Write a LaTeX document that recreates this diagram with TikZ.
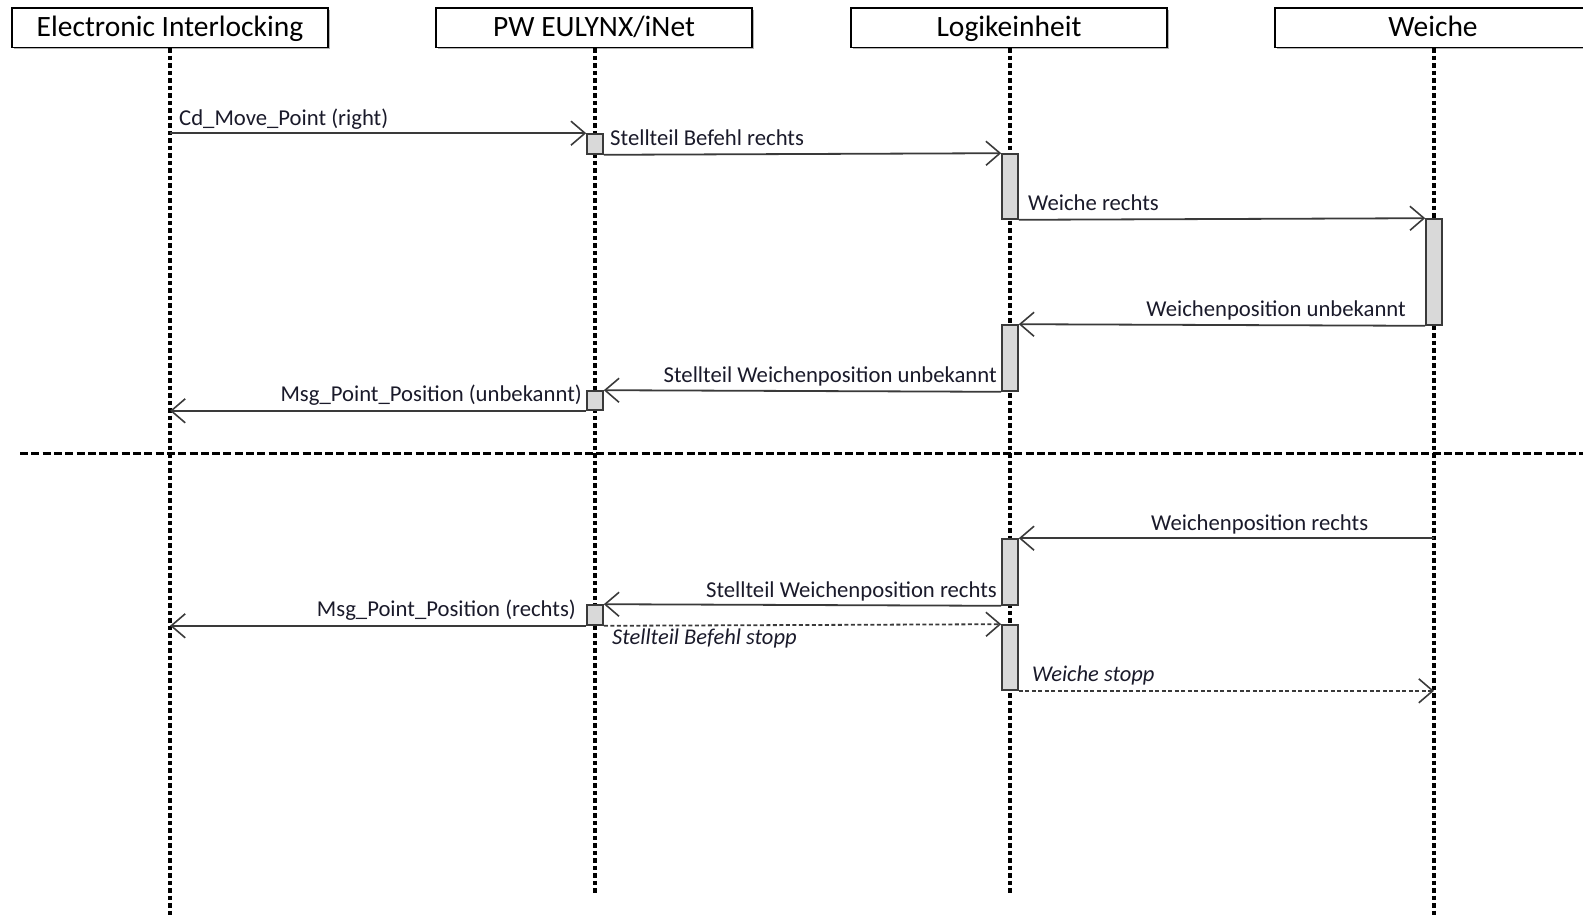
\documentclass[tikz,border=0pt]{standalone}
\usepackage{fontspec}
\setmainfont{Carlito}
\usetikzlibrary{arrows.meta,shadows}
\definecolor{msgline}{HTML}{3A3A3A}
\definecolor{actfill}{HTML}{D9D9D9}
\definecolor{labtext}{HTML}{1A1A2A}
\begin{document}
\begin{tikzpicture}[x=1pt,y=-1pt,
  head/.style={draw=black, line width=1.3pt, fill=white, minimum width=316pt,
    minimum height=39.5pt, inner sep=0pt, text height=22pt, text depth=4pt,
    font=\fontsize{29.5}{31}\selectfont,
    drop shadow={shadow xshift=1.5pt, shadow yshift=-1.5pt, fill=gray, opacity=0.6}},
  life/.style={line width=3.3pt, dash pattern=on 4.5pt off 3pt},
  sepline/.style={line width=3pt, dash pattern=on 8pt off 3.3pt},
  act/.style={draw=msgline, fill=actfill, line width=1.6pt, minimum width=16pt, inner sep=0pt},
  msg/.style={draw=msgline, line width=1.8pt,
    -{Straight Barb[length=14pt,width=24pt,line width=1.6pt]}},
  reply/.style={msg, dash pattern=on 4pt off 2.5pt},
  lab/.style={inner sep=0pt, text=labtext, font=\fontsize{22.7}{24}\selectfont},
  ilab/.style={lab, font=\fontsize{22.5}{24}\selectfont\itshape}
]
\useasboundingbox (0,0) rectangle (1583,916);

% participants
\node[head] (ei) at (170,27.75) {Electronic Interlocking};
\node[head] (pw) at (594,27.75) {PW EULYNX/iNet};
\node[head] (lg) at (1009,27.75) {Logikeinheit};
\node[head] (wc) at (1433,27.75) {Weiche};

% lifeline ends
\coordinate (eiend) at (170,916);
\coordinate (pwend) at (595,893);
\coordinate (lgend) at (1010,893);
\coordinate (wcend) at (1434,916);

\draw[life] (ei.south) -- (eiend);
\draw[life] (pw.south -| pwend) -- (pwend);
\draw[life] (lg.south -| lgend) -- (lgend);
\draw[life] (wc.south -| wcend) -- (wcend);

% separator between the two phases
\coordinate (sepL) at (20,453);
\coordinate (sepR) at (1583,453);
\draw[sepline] (sepL) -- (sepR);

% activation bars
\node[act, minimum height=20pt] (p1) at (595,144) {};
\node[act, minimum height=65pt] (l1) at (1010,186.5) {};
\node[act, minimum height=106pt] (w1) at (1434,272) {};
\node[act, minimum height=66pt] (l2) at (1010,358) {};
\node[act, minimum height=19pt] (p2) at (595,400.5) {};
\node[act, minimum height=66pt] (l3) at (1010,572) {};
\node[act, minimum height=20pt] (p3) at (595,615) {};
\node[act, minimum height=65pt] (l4) at (1010,657.5) {};

% messages, first phase
\draw[msg] (ei.south |- p1.north west) -- (p1.north west);
\node[lab, anchor=base west] (m1) at (179,125) {Cd\_Move\_Point (right)};

\draw[msg] (p1.south east) -- (l1.north west);
\node[lab, anchor=base west] (m2) at (610,145) {Stellteil Befehl rechts};

\draw[msg] (l1.south east) -- (w1.north west);
\node[lab, anchor=base west] (m3) at (1028,210) {Weiche rechts};

\draw[msg] (w1.south west) -- (l2.north east);
\node[lab, anchor=base east] (m4) at (1406,316) {Weichenposition unbekannt};

\draw[msg] (l2.south west) -- (p2.north east);
\node[lab, anchor=base east] (m5) at (997,382) {Stellteil Weichenposition unbekannt};

\draw[msg] (p2.south west) -- (ei.south |- p2.south west);
\node[lab, anchor=base east] (m6) at (582,401) {Msg\_Point\_Position (unbekannt)};

% messages, second phase
\draw[msg] (wcend |- l3.north east) -- (l3.north east);
\node[lab, anchor=base west] (m7) at (1151,530) {Weichenposition rechts};

\draw[msg] (l3.south west) -- (p3.north east);
\node[lab, anchor=base east] (m8) at (997,597) {Stellteil Weichenposition rechts};

\draw[msg] (p3.south west) -- (ei.south |- p3.south west);
\node[lab, anchor=base east] (m9) at (576,616) {Msg\_Point\_Position (rechts)};

\draw[reply] (p3.south east) -- (l4.north west);
\node[ilab, anchor=base west] (m10) at (612,644) {Stellteil Befehl stopp};

\draw[reply] (l4.south east) -- (wcend |- l4.south east);
\node[ilab, anchor=base west] (m11) at (1032,681) {Weiche stopp};
\end{tikzpicture}
\end{document}
